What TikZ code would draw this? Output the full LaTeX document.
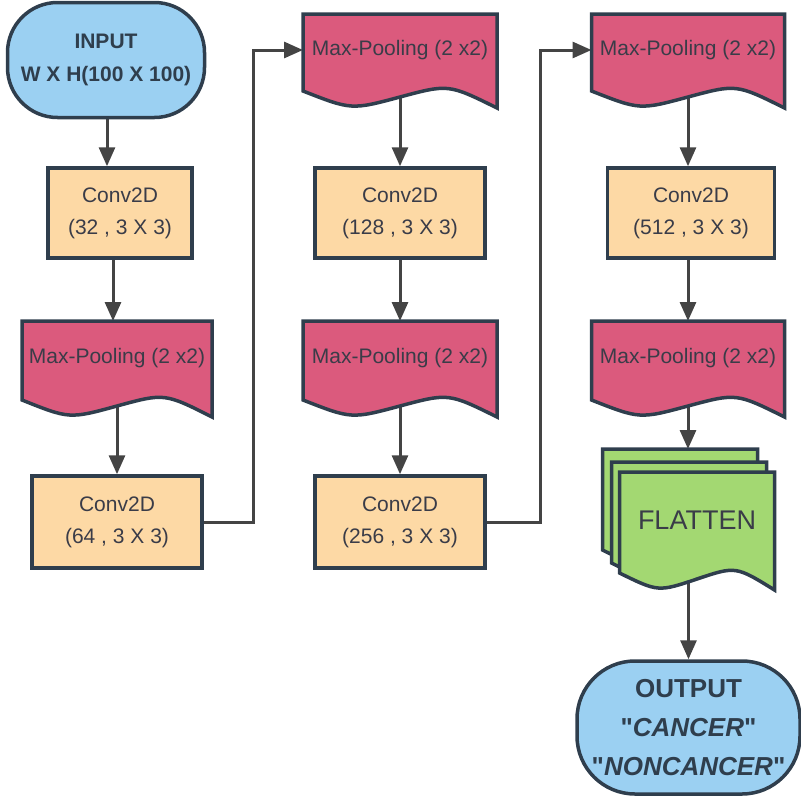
\documentclass[tikz,border=0pt]{standalone}
\usepackage{fontspec}
\setmainfont{Liberation Sans}[Ligatures=TeXOff]
\usepackage{xcolor}
\definecolor{edge}{RGB}{47, 62, 77}
\definecolor{link}{RGB}{68, 68, 68}
\definecolor{termfill}{RGB}{155, 208, 242}
\definecolor{convfill}{RGB}{253, 217, 165}
\definecolor{poolfill}{RGB}{219, 90, 125}
\definecolor{flatfill}{RGB}{163, 216, 114}
\definecolor{ink}{RGB}{58, 60, 72}
\usetikzlibrary{arrows.meta,calc,backgrounds}
\pgfdeclarelayer{back}
\pgfsetlayers{back,background,main}

% wavy "document" outline drawn round a named node
\newcommand{\docshape}[2]{%
  \draw[docline, fill=#2] (#1.north west) -- (#1.north east)
    -- ([yshift=-22pt]#1.south east)
    .. controls ($(#1.south west)!.75!(#1.south east)+(0,2)$) .. ([yshift=-11pt]#1.south)
    .. controls ($(#1.south west)!.25!(#1.south east)+(0,-24)$) .. ([yshift=-5pt]#1.south west)
    -- cycle;}

\begin{document}
\begin{tikzpicture}[x=1pt, y=1pt,
    docline/.style={draw=edge, line width=3.5pt, line join=miter},
    conv/.style={draw=edge, line width=3.5pt, fill=convfill, text=ink, align=center,
      minimum width=170pt, minimum height=92pt, inner sep=0pt,
      font=\fontsize{21}{32}\selectfont},
    pool/.style={inner sep=0pt, outer sep=0pt, text=ink, minimum width=194pt,
      minimum height=74pt, font=\fontsize{21}{26}\selectfont},
    term/.style={draw=edge, line width=3.5pt, fill=termfill, text=edge, align=center,
      rounded corners=50pt, inner sep=0pt},
    arr/.style={draw=link, line width=3pt, -{Triangle[length=19pt, width=16pt]}}]
    \useasboundingbox (0,0) rectangle (801,-798);

    % first column
    \node[term, minimum width=197pt, minimum height=115pt,
      font=\bfseries\fontsize{21}{33}\selectfont] (in) at (106,-60) {INPUT\\W X H(100 X 100)};
    \node[conv, minimum width=144pt, minimum height=90pt] (c32) at (120,-213) {Conv2D\\(32 , 3 X 3)};
    \node[pool, minimum width=190pt] (mp1) at (117,-358) {Max-Pooling (2 x2)};
    \node[conv] (c64) at (117,-522) {Conv2D\\(64 , 3 X 3)};

    % second column
    \node[pool, minimum height=72pt] (mp2) at (400,-50) {Max-Pooling (2 x2)};
    \node[conv, minimum height=90pt] (c128) at (400,-213) {Conv2D\\(128 , 3 X 3)};
    \node[pool] (mp3) at (400,-358) {Max-Pooling (2 x2)};
    \node[conv] (c256) at (400,-522) {Conv2D\\(256 , 3 X 3)};

    % third column
    \node[pool, minimum width=193pt, minimum height=72pt] (mp4) at (688,-50) {Max-Pooling (2 x2)};
    \node[conv, minimum width=167pt, minimum height=90pt] (c512) at (691,-213) {Conv2D\\(512 , 3 X 3)};
    \node[pool, minimum width=193pt] (mp5) at (688,-358) {Max-Pooling (2 x2)};
    \node[pool, minimum width=155pt, minimum height=96pt] (flatb) at (680,-497) {};
    \node[pool, minimum width=155pt, minimum height=96pt] (flatm) at (689,-510) {};
    \node[pool, minimum width=155pt, minimum height=96pt,
      font=\fontsize{27}{30}\selectfont] (flat) at (697,-520) {FLATTEN};
    \node[term, minimum width=223pt, minimum height=133pt, rounded corners=58pt,
      font=\bfseries\fontsize{26}{39}\selectfont] (out) at (688.5,-727.5)
      {OUTPUT\\"\textit{CANCER}"\\"\textit{NONCANCER}"};

    % wavy boxes
    \begin{pgfonlayer}{background}
        \docshape{mp1}{poolfill}
        \docshape{mp2}{poolfill}
        \docshape{mp3}{poolfill}
        \docshape{mp4}{poolfill}
        \docshape{mp5}{poolfill}
        \docshape{flatb}{flatfill}
        \docshape{flatm}{flatfill}
        \docshape{flat}{flatfill}
    \end{pgfonlayer}

    % arrows
    \begin{pgfonlayer}{back}
        \draw[arr] (in.south -| 107,0) -- (c32.north -| 107,0);
        \draw[arr] (c32.south -| 113,0) -- (mp1.north -| 113,0);
        \draw[arr] (mp1.south) -- (c64.north -| mp1.south);
        \draw[arr] (c64.east) -- ++(50,0) |- (mp2.west);
        \draw[arr] (mp2.south) -- (c128.north);
        \draw[arr] (c128.south) -- (mp3.north);
        \draw[arr] (mp3.south) -- (c256.north);
        \draw[arr] (c256.east) -- ++(54,0) |- (mp4.west);
        \draw[arr] (mp4.south) -- (c512.north -| mp4.south);
        \draw[arr] (c512.south -| mp5.north) -- (mp5.north);
        \draw[arr] (mp5.south) -- (mp5.south |- flatb.north);
        \draw[arr] (out.north |- flat.south) -- (out.north);
    \end{pgfonlayer}
\end{tikzpicture}
\end{document}
